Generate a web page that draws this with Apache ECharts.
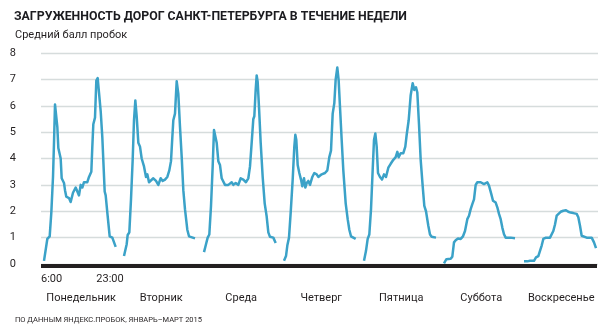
<!DOCTYPE html>
<html><head><meta charset="utf-8">
<script src="https://cdn.jsdelivr.net/npm/echarts@6/dist/echarts.min.js"></script>
<style>html,body{margin:0;padding:0;background:#fff}#c{width:608px;height:329px}</style>
</head><body><div id="c"></div>
<script>
const dayNames = ['Понедельник','Вторник','Среда','Четверг','Пятница','Суббота','Воскресенье'];
const yTicks = [0,1,2,3,4,5,6,7,8];
// hours after 6:00
const monH = [0,0.83,1.42,1.83,2.25,2.5,2.75,3.33,3.58,4.17,4.42,5.0,5.25,5.58,6.25,6.67,7.25,7.92,8.33,8.75,9.17,9.58,10.0,10.83,11.25,11.83,12.08,12.33,12.75,13.08,13.42,13.75,14.17,14.58,15.17,15.42,15.83,16.42,17.08,17.5,17.92];
const monV = [0.12,0.95,1.05,1.95,3.3,4.6,6.05,5.2,4.4,4.0,3.25,3.07,2.8,2.55,2.5,2.35,2.7,2.9,2.95,2.6,3.0,2.9,3.1,3.1,3.3,3.5,4.45,5.3,5.55,6.95,7.05,6.5,5.8,4.8,2.75,2.6,1.95,1.05,1.0,0.97,0.65];
const tueH = [0,0.67,0.92,1.33,1.75,2.17,2.5,2.83,3.17,3.58,4.0,4.42,5.0,5.5,5.83,6.25,6.67,7.33,8.0,8.58,9.17,9.67,10.25,10.83,11.33,11.75,12.08,12.33,12.75,13.17,13.58,14.0,14.42,14.83,15.25,15.83,16.25,16.67,17.75,17.9];
const tueV = [0.3,0.75,1.1,1.2,2.45,3.95,5.45,6.2,5.6,4.6,4.45,4.0,3.7,3.3,3.4,3.1,3.07,3.25,3.15,3.0,3.25,3.15,3.2,3.3,3.55,3.9,4.8,5.45,5.7,6.93,6.45,5.2,4.07,2.8,2.07,1.3,1.05,1.0,0.97,0.97];
const wedH = [0,0.5,0.92,1.33,1.75,2.17,2.5,2.75,3.17,3.58,4.0,4.42,4.83,5.25,6.08,6.92,7.33,7.92,8.58,9.17,9.83,10.5,11.08,11.5,11.92,12.33,12.58,12.92,13.17,13.42,13.75,14.17,14.67,15.17,15.67,16.08,16.5,17.33,17.92];
const wedV = [0.45,0.75,1.0,1.12,2.2,3.7,5.08,5.15,4.6,3.9,3.75,3.25,3.2,3.0,3.0,3.1,3.0,3.07,3.0,3.25,3.2,3.1,3.25,3.7,4.6,5.5,5.6,6.6,7.15,6.9,5.95,4.6,3.3,2.3,1.8,1.2,1.03,1.0,0.8];
const thuH = [0,0.5,0.83,1.25,1.67,2.17,2.58,2.83,3.08,3.42,3.83,4.25,4.58,5.0,5.33,5.67,6.08,6.5,7.08,7.58,8.17,8.58,9.42,10.25,10.83,11.33,11.75,12.17,12.58,12.92,13.33,13.67,14.0,14.42,14.83,15.42,15.92,16.33,16.75,17.33,17.92];
const thuV = [0.12,0.3,0.7,1.0,1.95,3.2,4.45,4.9,4.7,3.75,3.45,3.2,2.95,3.25,2.9,3.07,3.15,3.0,3.3,3.45,3.4,3.3,3.4,3.45,3.55,4.05,4.3,5.7,6.1,7.0,7.45,6.95,5.95,4.7,3.55,2.3,1.7,1.3,1.05,1.0,0.95];
const friH = [0,0.5,0.92,1.33,1.75,2.17,2.5,2.83,3.17,3.5,4.0,4.5,5.0,5.5,6.08,6.67,7.33,7.92,8.33,8.67,9.17,9.83,10.33,10.67,11.17,11.67,12.17,12.58,13.0,13.33,13.75,14.17,14.67,15.08,15.5,16.08,16.5,16.92,18.0];
const friV = [0.12,0.5,0.95,1.12,2.07,3.57,4.7,4.95,4.45,3.45,3.3,3.2,3.4,3.3,3.65,3.8,3.95,4.05,4.25,4.05,4.2,4.2,4.45,4.9,5.45,6.4,6.85,6.6,6.7,6.5,5.3,3.95,2.95,2.2,2.0,1.45,1.12,1.03,1.0];
const satH = [0,0.58,1.08,1.67,2.08,2.5,2.92,3.5,4.17,4.75,5.25,5.83,6.25,6.67,7.08,7.5,7.92,8.33,8.75,9.17,10.0,10.42,10.83,11.25,11.83,12.25,12.92,13.33,13.75,14.17,14.58,15.0,15.42,16.67,17.75];
const satV = [0.02,0.18,0.25,0.2,0.28,0.82,0.9,0.97,0.95,1.05,1.25,1.7,1.83,2.08,2.27,2.45,3.0,3.1,3.15,3.1,3.03,3.1,3.1,2.97,2.65,2.4,2.33,2.15,1.9,1.7,1.38,1.13,1.0,1.0,0.98];
const sunH = [0,0.83,1.5,1.92,2.5,3.0,3.58,4.0,4.42,4.83,5.5,6.5,6.92,7.33,7.75,8.17,8.58,9.17,9.83,10.5,11.08,11.67,12.33,13.17,13.58,14.0,14.42,14.83,15.67,16.92,17.5,18.0];
const sunV = [0.1,0.1,0.12,0.18,0.12,0.25,0.3,0.5,0.7,0.95,1.0,1.0,1.05,1.25,1.5,1.83,1.9,1.98,2.02,2.04,1.98,1.95,1.93,1.9,1.77,1.45,1.07,1.0,1.0,1.0,0.82,0.6];

const days = [[monH,monV],[tueH,tueV],[wedH,wedV],[thuH,thuV],[friH,friV],[satH,satV],[sunH,sunV]];
const DAY_STEP = 20; // 18 h of data + 2 h gap

const chart = echarts.init(document.getElementById('c'), null, {renderer:'canvas'});
const series = days.map((d, i) => ({
  type: 'line', showSymbol: false, silent: true,
  data: d[0].map((h, k) => [i * DAY_STEP + h, d[1][k]]),
  lineStyle: {color: '#3ba2c8', width: 2.5, join: 'round'}
}));
chart.setOption({
  animation: false,
  title: [
    {text: 'ЗАГРУЖЕННОСТЬ ДОРОГ САНКТ-ПЕТЕРБУРГА В ТЕЧЕНИЕ НЕДЕЛИ', left: 9, top: 6,
     textStyle: {fontFamily: 'Roboto', fontWeight: 'bold', fontSize: 12.3, color: '#1b1b1f'}},
    {text: 'Средний балл пробок', left: 10, top: 25,
     textStyle: {fontFamily: 'Roboto', fontWeight: 'normal', fontSize: 11, color: '#231f20'}},
    {text: 'ПО ДАННЫМ ЯНДЕКС.ПРОБОК, ЯНВАРЬ–МАРТ 2015', left: 10, top: 311,
     textStyle: {fontFamily: 'Roboto', fontWeight: 'normal', fontSize: 7.5, color: '#231f20'}}
  ],
  grid: {left: 41, top: 53, width: 557, height: 211},
  xAxis: {type: 'value', min: -0.75, max: 138.5,
    axisLine: {show: false}, axisTick: {show: false}, axisLabel: {show: false}, splitLine: {show: false}},
  yAxis: {type: 'value', min: 0, max: 8, interval: 1,
    axisLine: {show: false}, axisTick: {show: false},
    axisLabel: {margin: 25, align: 'right', color: '#231f20', fontFamily: 'Roboto', fontSize: 11,
      padding: [0,0,6,0], formatter: v => yTicks.includes(v) ? String(v) : ''},
    splitLine: {lineStyle: {color: '#d6dcdc', width: 1.4}}},
  series: series
});

// axis line and labels placed through the chart's own scale
const p0 = chart.convertToPixel({gridIndex: 0}, [-0.75, 0]);
const p1 = chart.convertToPixel({gridIndex: 0}, [138.5, 0]);
const elems = [{type: 'line', shape: {x1: p0[0], y1: p0[1] + 2, x2: p1[0] - 1, y2: p1[1] + 2},
  style: {stroke: '#231f20', lineWidth: 4}, z: 10}];
const tx6 = chart.convertToPixel({gridIndex: 0}, [0, 0]);
const tx23 = chart.convertToPixel({gridIndex: 0}, [17, 0]);
elems.push({type: 'text', x: tx6[0] - 3, y: tx6[1] + 15, style: {text: '6:00', fill: '#231f20', font: '11px Roboto', textAlign: 'left', textVerticalAlign: 'middle'}});
elems.push({type: 'text', x: tx23[0] - 2, y: tx23[1] + 15, style: {text: '23:00', fill: '#231f20', font: '11px Roboto', textAlign: 'center', textVerticalAlign: 'middle'}});
dayNames.forEach((n, i) => {
  const p = chart.convertToPixel({gridIndex: 0}, [i * DAY_STEP + 9.3, 0]);
  elems.push({type: 'text', x: p[0], y: p[1] + 34, style: {text: n, fill: '#231f20', font: '11px Roboto', textAlign: 'center', textVerticalAlign: 'middle'}});
});
chart.setOption({graphic: elems});
</script></body></html>
